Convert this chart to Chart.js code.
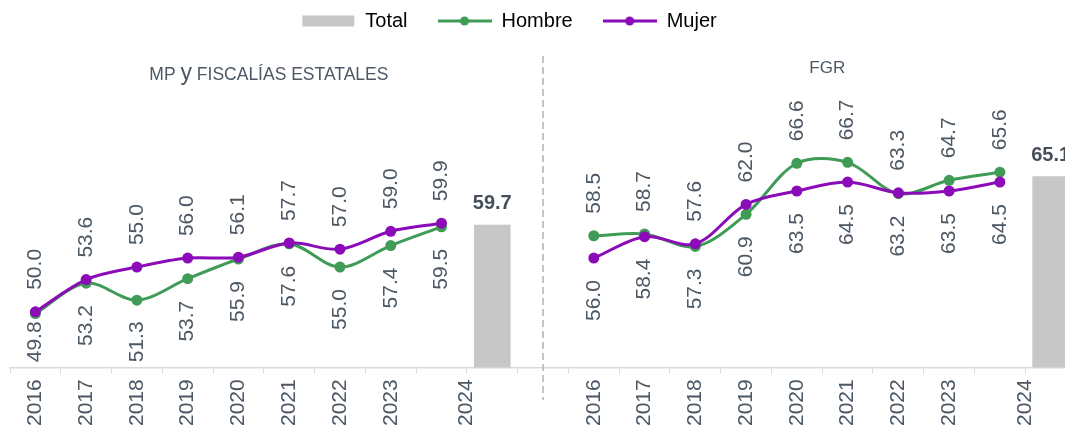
<!DOCTYPE html>
<html>
<head>
<meta charset="utf-8">
<script src="https://cdn.jsdelivr.net/npm/chart.js@4.4.1/dist/chart.umd.min.js"></script>
<style>
  html, body { margin: 0; padding: 0; background: #fff; overflow: hidden; }
  /* the original chart runs a little past the right edge of the picture */
  #wrap { width: 1065px; height: 428px; overflow: hidden; }
</style>
</head>
<body>
<div id="wrap"><canvas id="chart" width="1082" height="432"></canvas></div>
<script>
let years = ["2016", "2017", "2018", "2019", "2020", "2021", "2022", "2023", "2024"];
let panelTitles = ["MP y FISCALÍAS ESTATALES", "FGR"];

let hombreMP = [49.8, 53.2, 51.3, 53.7, 55.9, 57.6, 55.0, 57.4, 59.5];
let mujerMP = [50.0, 53.6, 55.0, 56.0, 56.1, 57.7, 57.0, 59.0, 59.9];
let totalMP = 59.7;

let hombreFGR = [58.5, 58.7, 57.3, 60.9, 66.6, 66.7, 63.2, 64.7, 65.6];
let mujerFGR = [56.0, 58.4, 57.6, 62.0, 63.5, 64.5, 63.3, 63.5, 64.5];
let totalFGR = 65.1;

const green = "#3f9b56";
const purple = "#8b0bb8";
const grey = "#c7c7c7";
const textColor = "#4d5865";
const fontFamily = '"Liberation Sans", Arial, sans-serif';

Chart.defaults.font.family = fontFamily;

// each panel: 9 years of lines, one slot for the Total bar; one empty slot between panels
// the 2024 label sits on a second line so it lands on the tick next to the bar, as in Excel
let yearLabels = years.slice(0, -1).concat([["", years[8]]]);
let xLabels = [...yearLabels, "", "", ...yearLabels, ""];

let hombre = [...hombreMP, null, null, ...hombreFGR, null];
let mujer = [...mujerMP, null, null, ...mujerFGR, null];
let total = xLabels.map(() => null);
total[9] = totalMP;
total[20] = totalFGR;

function legendImage(color, line) {
  const c = document.createElement("canvas");
  c.width = 54;
  c.height = 12;
  const g = c.getContext("2d");
  g.fillStyle = color;
  g.strokeStyle = color;
  if (line) {
    g.lineWidth = 3;
    g.beginPath();
    g.moveTo(0, 6);
    g.lineTo(54, 6);
    g.stroke();
    g.beginPath();
    g.arc(27, 6, 4.5, 0, Math.PI * 2);
    g.fill();
  } else {
    g.fillRect(1, 0.5, 52, 11);
  }
  return c;
}

const valueLabels = {
  id: "valueLabels",
  afterDatasetsDraw(chart) {
    const ctx = chart.ctx;
    const area = chart.chartArea;
    ctx.save();
    ctx.fillStyle = textColor;
    ctx.font = "21px " + fontFamily;
    ctx.textBaseline = "middle";
    [1, 2].forEach((di) => {
      const other = di === 1 ? 2 : 1;
      const data = chart.data.datasets[di].data;
      const otherData = chart.data.datasets[other].data;
      chart.getDatasetMeta(di).data.forEach((pt, i) => {
        const v = data[i];
        if (v == null) return;
        const txt = v.toFixed(1);
        const w = ctx.measureText(txt).width;
        ctx.save();
        if (v > otherData[i]) {
          ctx.translate(pt.x, pt.y - 22);
          ctx.rotate(-Math.PI / 2);
          ctx.textAlign = "left";
        } else {
          let start = pt.y + 22;
          if (start + w > area.bottom - 5) start = area.bottom - 5 - w;
          ctx.translate(pt.x, start);
          ctx.rotate(-Math.PI / 2);
          ctx.textAlign = "right";
        }
        ctx.fillText(txt, 0, 0);
        ctx.restore();
      });
    });
    // totals on top of the bars
    ctx.font = "bold 20px " + fontFamily;
    ctx.textAlign = "center";
    ctx.textBaseline = "alphabetic";
    ctx.fillStyle = "#454f5a";
    chart.getDatasetMeta(0).data.forEach((bar, i) => {
      const v = chart.data.datasets[0].data[i];
      if (v == null) return;
      ctx.fillText(v.toFixed(1), bar.x, bar.y - 16);
    });
    ctx.restore();
  },
  afterDraw(chart) {
    const ctx = chart.ctx;
    const x = chart.scales.x;
    ctx.save();
    // dashed separator between the two panels
    ctx.strokeStyle = "#c3c3c3";
    ctx.lineWidth = 2;
    ctx.setLineDash([7, 4]);
    ctx.beginPath();
    ctx.moveTo(x.getPixelForValue(10), 56);
    ctx.lineTo(x.getPixelForValue(10), 400);
    ctx.stroke();
    // panel titles (the "y" is set larger in the original)
    ctx.fillStyle = textColor;
    ctx.textBaseline = "alphabetic";
    ctx.textAlign = "left";
    const parts = [["MP ", 17.5], ["y", 23], [" FISCALÍAS ESTATALES", 17.5]];
    let widths = parts.map((p) => {
      ctx.font = p[1] + "px " + fontFamily;
      return ctx.measureText(p[0]).width;
    });
    let tx = x.getPixelForValue(4.6) - widths.reduce((a, b) => a + b, 0) / 2;
    parts.forEach((p, i) => {
      ctx.font = p[1] + "px " + fontFamily;
      ctx.fillText(p[0], tx, 80);
      tx += widths[i];
    });
    ctx.font = "17px " + fontFamily;
    ctx.textAlign = "center";
    ctx.textBaseline = "middle";
    ctx.fillText(panelTitles[1], x.getPixelForValue(15.6), 68);
    ctx.restore();
  },
  afterLayout(chart) {
    // move the legend up and a little to the left, where Excel put it
    const lg = chart.legend;
    lg.left -= 37;
    lg.right -= 37;
    lg.top = 21 - 40;
    lg.bottom = lg.top + lg.height;
  },
};

new Chart(document.getElementById("chart"), {
  type: "bar",
  data: {
    labels: xLabels,
    datasets: [
      {
        type: "bar",
        label: "Total",
        data: total,
        backgroundColor: grey,
        barThickness: 36,
        order: 3,
      },
      {
        type: "line",
        label: "Hombre",
        data: hombre,
        borderColor: green,
        backgroundColor: green,
        borderWidth: 3,
        pointRadius: 5.5,
        pointBorderWidth: 0,
        pointBackgroundColor: green,
        tension: 0.33,
        order: 2,
      },
      {
        type: "line",
        label: "Mujer",
        data: mujer,
        borderColor: purple,
        backgroundColor: purple,
        borderWidth: 3,
        pointRadius: 5.5,
        pointBorderWidth: 0,
        pointBackgroundColor: purple,
        tension: 0.33,
        order: 1,
      },
    ],
  },
  options: {
    responsive: false,
    animation: false,
    events: [],
    layout: {
      padding: { top: 28.1, right: 0, bottom: 0, left: 10 },
    },
    plugins: {
      tooltip: { enabled: false },
      legend: {
        display: true,
        position: "top",
        labels: {
          usePointStyle: true,
          pointStyleWidth: 54,
          padding: 30,
          color: textColor,
          font: { size: 20 },
          generateLabels: function (chart) {
            const colors = [grey, green, purple];
            return chart.data.datasets.map(function (ds, i) {
              return {
                text: ds.label,
                pointStyle: legendImage(colors[i], i > 0),
                fillStyle: colors[i],
                strokeStyle: colors[i],
                lineWidth: 0,
                hidden: false,
                datasetIndex: i,
              };
            });
          },
        },
      },
    },
    scales: {
      x: {
        offset: true,
        grid: {
          offset: true,
          drawOnChartArea: false,
          tickLength: 6,
          color: "#d9d9d9",
        },
        border: { display: true, color: "#d9d9d9", width: 1.5 },
        ticks: {
          autoSkip: false,
          minRotation: 90,
          maxRotation: 90,
          padding: 6,
          color: textColor,
          font: { size: 21 },
        },
      },
      y: {
        display: false,
        min: 43.8,
        max: 75,
      },
    },
  },
  plugins: [valueLabels],
});
</script>
</body>
</html>
